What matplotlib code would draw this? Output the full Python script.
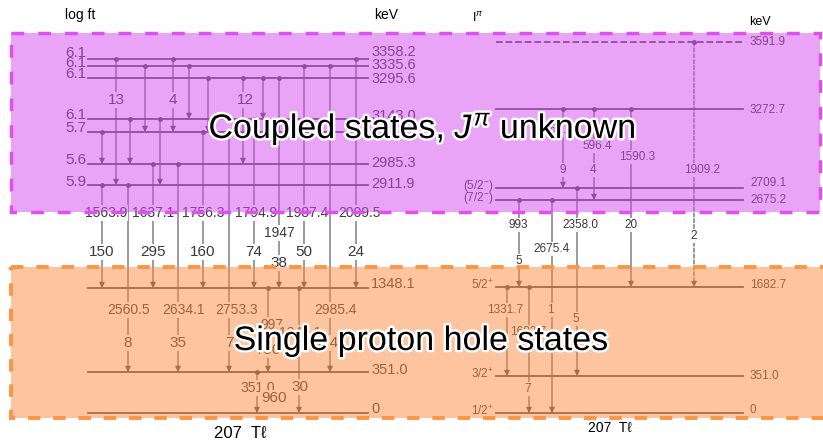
import matplotlib
matplotlib.use("Agg")
import matplotlib.pyplot as plt
import matplotlib.patheffects as pe
from matplotlib.patches import Rectangle

plt.rcParams["font.family"] = ["Liberation Sans", "DejaVu Sans"]
plt.rcParams["mathtext.fontset"] = "custom"
plt.rcParams["mathtext.rm"] = "Liberation Sans"
plt.rcParams["mathtext.it"] = "Liberation Sans:italic"

INK = "#3a3a3a"
LINE = "#505050"

# ---- left scheme (207Tl levels, schematic heights) ----
left_energy = [0.0, 351.0, 1348.1, 2911.9, 2985.3, 3104.4, 3143.0, 3295.6, 3335.6, 3358.2]
left_height = [413, 372, 288, 185, 164, 132, 119, 78, 66, 59]
left_label = ["0", "351.0", "1348.1", "2911.9", "2985.3", "", "3143.0", "3295.6", "3335.6", "3358.2"]
left_label_y = [409, 370, 284, 184, 163, 132, 116, 79, 65, 52]
left_logft = ["", "", "", "5.9", "5.6", "5.7", "6.1", "6.1", "6.1", "6.1"]
left_logft_y = [0, 0, 0, 182, 160, 128, 115, 74, 63, 53]

left_tr_x = [116, 173, 356, 145, 189, 304, 330, 208, 243, 263, 279, 130,
             160, 254, 102, 203, 229, 153, 178, 102, 128, 268, 299, 257]
left_tr_from = [3358.2, 3358.2, 3358.2, 3335.6, 3335.6, 3335.6, 3335.6, 3295.6,
                3295.6, 3295.6, 3295.6, 3143.0, 3143.0, 3143.0, 3104.4, 3104.4,
                3104.4, 2985.3, 2985.3, 2911.9, 2911.9, 1348.1, 1348.1, 351.0]
left_tr_to = [2911.9, 3104.4, 1348.1, 3104.4, 3143.0, 1348.1, 351.0, 3104.4,
              2985.3, 3143.0, 1348.1, 2985.3, 2911.9, 1348.1, 2985.3, 1348.1,
              351.0, 1348.1, 351.0, 1348.1, 351.0, 351.0, 0.0, 0.0]
left_gamma = [("2009.5", 360, 213), ("1987.4", 307, 213), ("2985.4", 336, 310),
              ("1947", 279, 233), ("1794.9", 256, 213), ("1756.3", 203, 213),
              ("2753.3", 237, 310), ("1637.1", 153, 213), ("2634.1", 184, 310),
              ("1563.9", 106, 213), ("2560.5", 129, 310), ("997", 272, 325),
              ("1348.1", 300, 333), ("351.0", 258, 388)]
left_intensity = [("13", 116, 100), ("4", 173, 100), ("12", 245, 100),
                  ("24", 356, 252), ("50", 304, 252), ("38", 279, 263),
                  ("74", 254, 252), ("160", 203, 252), ("295", 153, 252),
                  ("150", 102, 252), ("0.4", 328, 343), ("7", 229, 343),
                  ("35", 178, 343), ("8", 128, 343), ("750", 268, 350),
                  ("30", 300, 387), ("960", 274, 398)]

# ---- right scheme ----
right_energy = [0.0, 351.0, 1682.7, 2675.2, 2709.1, 3272.7, 3591.9]
right_height = [413, 376, 287, 200, 188, 109, 42]
right_label = ["0", "351.0", "1682.7", "2675.2", "2709.1", "3272.7", "3591.9"]
right_label_y = [410, 376, 285, 200, 183, 110, 42]
right_spin = [r"1/2$^{+}$", r"3/2$^{+}$", r"5/2$^{+}$", r"(7/2$^{-}$)", r"(5/2$^{-}$)", "", ""]
right_dashed = [False, False, False, False, False, False, True]

right_tr_x = [694, 563, 594, 631, 577, 519, 552, 507, 529]
right_tr_from = [3591.9, 3272.7, 3272.7, 3272.7, 2709.1, 2675.2, 2675.2, 1682.7, 1682.7]
right_tr_to = [1682.7, 2709.1, 2675.2, 1682.7, 351.0, 1682.7, 0.0, 351.0, 0.0]
right_tr_dashed = [True, False, False, False, False, False, False, False, False]
right_gamma = [("1909.2", 702, 170), ("563.6", 558, 130), ("596.4", 597, 146),
               ("1590.3", 637, 157), ("2358.0", 580, 225), ("993", 518, 225),
               ("2675.4", 552, 249), ("1331.7", 505, 310), ("1682.7", 528, 332)]
right_intensity = [("2", 694, 236), ("9", 563, 170), ("4", 593, 170),
                   ("20", 631, 225), ("5", 576, 319), ("5", 519, 261),
                   ("1", 550, 310), ("7", 528, 389)]

fig = plt.figure(figsize=(8.23, 4.40), dpi=100)
ax = fig.add_axes([0, 0, 1, 1])
ax.set_xlim(0, 823)
ax.set_ylim(440, 0)
ax.axis("off")

box = dict(facecolor="white", edgecolor="none", pad=0.5)


def draw_scheme(energy, height, x0, x1, tr_x, tr_from, tr_to, dashed_levels=None, dashed_tr=None):
    ypos = dict(zip(energy, height))
    for i, (e, y) in enumerate(zip(energy, height)):
        ls = "--" if dashed_levels and dashed_levels[i] else "-"
        ax.plot([x0, x1], [y, y], color=LINE, lw=1.3, ls=ls, zorder=2)
    for i, (x, ef, et) in enumerate(zip(tr_x, tr_from, tr_to)):
        ls = "--" if dashed_tr and dashed_tr[i] else "-"
        ax.annotate("", xy=(x, ypos[et]), xytext=(x, ypos[ef]),
                    arrowprops=dict(arrowstyle="-|>", color=LINE, lw=0.8, ls=ls,
                                    mutation_scale=8, shrinkA=0, shrinkB=0), zorder=2)
        ax.plot(x, ypos[ef], "o", color=LINE, ms=2.5, zorder=2)


draw_scheme(left_energy, left_height, 88, 368, left_tr_x, left_tr_from, left_tr_to)
draw_scheme(right_energy, right_height, 496, 743, right_tr_x, right_tr_from, right_tr_to,
            right_dashed, right_tr_dashed)

for lab, y in zip(left_label, left_label_y):
    ax.text(371, y, lab, fontsize=10.5, color=INK, va="center", ha="left", zorder=3)
for lab, y in zip(left_logft, left_logft_y):
    if lab:
        ax.text(86, y, lab, fontsize=11, color=INK, va="center", ha="right", zorder=3)
for lab, x, y in left_gamma:
    ax.text(x, y, lab, fontsize=10, color=INK, ha="center", va="center", bbox=box, zorder=3)
for lab, x, y in left_intensity:
    ax.text(x, y, lab, fontsize=11, color=INK, ha="center", va="center", bbox=box, zorder=3)

for lab, y in zip(right_label, right_label_y):
    ax.text(750, y, lab, fontsize=8.5, color=INK, va="center", ha="left", zorder=3)
for lab, y in zip(right_spin, right_height):
    if lab:
        ax.text(494, y - 2, lab, fontsize=8.5, color=INK, va="center", ha="right", zorder=3)
for lab, x, y in right_gamma:
    ax.text(x, y, lab, fontsize=8.5, color=INK, ha="center", va="center", bbox=box, zorder=3)
for lab, x, y in right_intensity:
    ax.text(x, y, lab, fontsize=8.5, color=INK, ha="center", va="center", bbox=box, zorder=3)

ax.text(80, 15, "log ft", fontsize=10, color="black", ha="center", va="center")
ax.text(386, 15, "keV", fontsize=10, color="black", ha="center", va="center")
ax.text(478, 18, r"I$^{\pi}$", fontsize=9, color="black", ha="center", va="center")
ax.text(760, 22, "keV", fontsize=9, color="black", ha="center", va="center")
ax.text(240, 433, "207  Tℓ", fontsize=12, color="black", ha="center", va="center")
ax.text(610, 428, "207  Tℓ", fontsize=10, color="black", ha="center", va="center")

# highlight boxes
ax.add_patch(Rectangle((11, 33), 809, 179, facecolor="#d54bf0", alpha=0.5,
                       edgecolor="none", zorder=5))
ax.add_patch(Rectangle((11, 33), 809, 179, fill=False, edgecolor="#de50f0",
                       lw=2.5, ls=(0, (3.7, 4)), zorder=6))
ax.add_patch(Rectangle((11, 267), 830, 151, facecolor="#fa8c41", alpha=0.5,
                       edgecolor="none", zorder=5))
ax.add_patch(Rectangle((11, 267), 830, 151, fill=False, edgecolor="#fa9646",
                       lw=2.8, ls=(0, (3.2, 3.3)), zorder=6))

stroke = [pe.withStroke(linewidth=3.5, foreground="white")]
ax.text(422, 138, r"Coupled states, $J^{\pi}$ unknown", fontsize=24.5, color="black",
        ha="center", va="baseline", path_effects=stroke, zorder=7)
ax.text(421, 350, "Single proton hole states", fontsize=24.5, color="black",
        ha="center", va="baseline", path_effects=stroke, zorder=7)

fig.savefig("out.png", dpi=100)
